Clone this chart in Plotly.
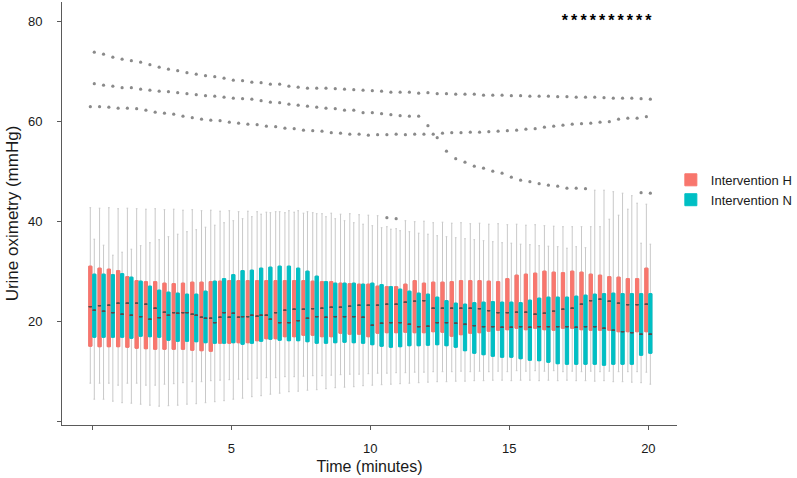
import numpy as np
import plotly.graph_objects as go

# ---- time points (minutes), one every 20 s ----
times = [round(i / 3, 3) for i in range(61)]

# ---- Intervention H (red) box statistics ----
H_q3 = [31.1, 30.7, 30.5, 30.2, 29.0, 28.2, 28.0, 28.0, 27.7, 27.6, 27.7, 27.9, 27.9, 28.0, 28.1, 28.2, 28.2, 28.2, 28.2,
        28.2, 28.2, 28.2, 28.2, 28.2, 28.1, 28.0, 28.0, 27.7, 27.6, 27.5, 27.5, 27.1, 27.0, 27.0, 27.5, 28.2, 27.7, 27.9, 27.9,
        28.0, 28.2, 28.2, 28.2, 28.1, 28.0, 28.6, 29.3, 29.5, 29.7, 30.1, 29.9, 29.8, 30.1, 29.9, 29.5, 29.3, 29.0, 28.9, 28.6, 28.6, 30.7]
H_med = [23.0, 23.2, 23.3, 23.7, 23.7, 23.7, 23.5, 22.7, 21.9, 21.8, 21.8, 21.5, 20.9, 20.7, 20.9, 20.9, 20.9, 21.0, 21.1,
         21.3, 21.8, 22.3, 22.5, 22.5, 22.6, 22.7, 22.9, 22.9, 23.1, 23.3, 23.3, 23.3, 23.5, 23.5, 23.9, 24.1, 24.2, 22.7, 22.7,
         22.7, 22.7, 22.7, 22.6, 22.2, 21.8, 21.8, 21.9, 21.9, 21.5, 21.7, 22.1, 22.5, 22.7, 23.5, 24.2, 24.5, 24.1, 23.7, 23.4, 23.4, 23.5]
H_q1 = [15.1, 15.0, 15.0, 15.0, 14.9, 14.7, 14.6, 14.5, 14.5, 14.5, 14.5, 14.3, 14.2, 14.1, 15.7, 15.7, 15.8, 15.8, 16.2,
        16.6, 16.6, 17.0, 17.0, 17.3, 17.3, 17.0, 17.0, 17.7, 17.5, 17.5, 17.0, 17.7, 17.8, 17.8, 17.9, 17.8, 17.8, 18.0, 17.9,
        17.1, 17.4, 17.7, 17.8, 18.1, 18.3, 18.4, 18.7, 18.4, 18.7, 18.4, 18.3, 18.7, 18.7, 18.4, 18.3, 18.3, 18.3, 18.0, 18.0, 18.0, 18.0]
H_hi = [42.8, 42.7, 42.8, 42.6, 42.7, 42.6, 42.5, 42.6, 42.4, 42.5, 42.3, 42.4, 42.2, 42.3, 42.1, 42.2, 42.0, 42.1, 42.0,
        41.9, 42.0, 41.8, 41.9, 41.7, 41.8, 41.6, 41.7, 41.5, 41.6, 41.4, 41.3, 41.2, 39.0, 38.6, 40.2, 40.0, 40.1, 39.8, 39.9,
        39.7, 39.8, 39.6, 39.7, 39.5, 39.6, 39.4, 39.5, 39.3, 39.4, 39.2, 39.1, 39.0, 39.0, 39.0, 39.0, 39.0, 40.5, 41.3, 42.5, 43.7, 43.5]
H_lo = [7.7, 7.7, 7.7, 7.3, 7.7, 7.7, 7.3, 7.3, 7.5, 7.6, 7.8, 8.0, 8.0, 8.2, 8.3, 8.4, 8.5, 8.5, 8.7,
        8.8, 8.8, 9.0, 9.0, 9.1, 9.2, 9.2, 9.3, 9.4, 9.5, 9.5, 9.6, 9.7, 9.7, 9.8, 9.8, 9.9, 9.9, 10.0, 10.0,
        10.0, 10.1, 10.0, 10.1, 10.0, 10.1, 10.0, 10.2, 10.1, 10.2, 10.1, 10.2, 10.0, 10.1, 10.0, 10.1, 10.0, 10.1, 10.0, 10.0, 10.0, 9.9]

# ---- Intervention N (teal) box statistics ----
N_q3 = [29.5, 29.5, 29.4, 29.6, 28.9, 28.1, 27.1, 26.3, 25.9, 25.7, 25.5, 25.5, 26.1, 28.1, 28.6, 29.4, 30.2, 30.3,
        30.7, 30.9, 31.1, 31.1, 30.7, 30.1, 29.1, 28.0, 27.7, 27.7, 27.7, 27.5, 27.7, 27.4, 27.0, 26.5, 26.1, 25.7, 25.5, 24.9, 24.2,
        23.7, 23.5, 23.8, 23.9, 24.0, 23.9, 23.9, 23.8, 24.3, 24.7, 24.9, 24.9, 24.9, 25.1, 25.3, 25.5, 25.6, 25.7, 25.6, 25.6, 25.6, 25.6]
N_med = [22.3, 22.1, 21.8, 21.5, 21.3, 21.0, 20.5, 20.8, 21.3, 21.7, 21.8, 21.3, 20.7, 19.8, 21.8, 21.7, 21.0, 21.3,
         21.3, 20.5, 19.8, 19.8, 20.2, 20.7, 21.0, 20.9, 21.0, 21.0, 21.0, 20.9, 19.3, 19.7, 19.8, 19.8, 19.5, 19.0, 19.1, 19.8, 19.8,
         19.7, 19.5, 19.2, 19.0, 19.0, 18.9, 18.9, 19.0, 18.9, 19.0, 19.0, 19.0, 19.0, 18.9, 19.0, 19.0, 18.7, 18.3, 18.0, 17.8, 17.5, 17.5]
N_q1 = [16.9, 16.9, 16.9, 16.9, 16.7, 17.1, 17.0, 16.9, 16.3, 16.1, 16.1, 16.0, 15.8, 15.7, 15.7, 15.8, 15.5, 15.7,
        16.1, 16.5, 16.3, 16.2, 16.2, 16.0, 15.7, 15.7, 15.8, 15.9, 15.8, 15.7, 15.4, 15.1, 14.9, 15.0, 15.2, 15.2, 15.3, 15.4, 15.2,
        14.9, 14.2, 13.7, 13.4, 13.1, 12.9, 12.9, 12.6, 12.3, 12.2, 11.9, 11.6, 11.5, 11.5, 11.5, 11.5, 11.3, 11.5, 11.5, 11.5, 13.3, 13.7]
N_hi = [36.5, 35.3, 33.3, 33.9, 34.5, 35.2, 35.8, 36.4, 37.0, 37.5, 38.0, 38.4, 38.9, 39.3, 39.8, 40.2, 40.6, 41.0,
        41.5, 41.8, 42.0, 42.2, 42.2, 42.0, 41.6, 41.0, 40.6, 40.2, 39.8, 39.5, 39.2, 38.8, 38.5, 38.2, 38.0, 37.7, 37.5, 37.2, 37.0,
        36.8, 36.6, 36.4, 36.2, 36.0, 35.8, 35.7, 35.5, 35.4, 35.2, 35.1, 35.0, 34.7, 35.0, 34.8, 46.3, 46.3, 46.0, 45.7, 45.2, 35.7, 35.5]
N_lo = [4.5, 4.5, 4.1, 3.8, 3.7, 3.5, 3.3, 3.1, 3.2, 3.3, 3.5, 3.6, 3.8, 4.0, 4.2, 4.5, 4.7, 5.0,
        5.2, 5.5, 5.7, 6.0, 6.1, 6.3, 6.4, 6.6, 6.8, 6.9, 7.0, 7.2, 7.3, 7.4, 7.5, 7.6, 7.7, 7.8, 7.9, 8.0, 8.0,
        8.1, 8.1, 8.2, 8.2, 8.3, 8.3, 8.2, 8.3, 8.3, 8.2, 8.3, 8.2, 8.3, 8.2, 8.2, 8.1, 8.2, 8.0, 8.0, 7.9, 7.8, 7.5]

# ---- outliers ----
N_out_a = [73.9, 73.5, 72.9, 72.5, 72.2, 71.9, 71.4, 70.9, 70.5, 70.2, 69.8, 69.5, 69.2, 69.0, 68.7, 68.3, 68.2, 67.9, 67.8, 67.5,
           67.5, 67.1, 66.9, 66.7, 66.7, 66.7, 66.6, 66.5, 66.4,
           66.3, 66.2, 66.1, 65.9, 65.9, 65.9, 65.7, 65.8, 65.6, 65.6, 65.5, 65.5, 65.5, 65.3, 65.3, 65.3, 65.2, 65.2, 65.1, 65.1,
           65.1, 65.0, 65.0, 64.9, 64.9, 64.9, 64.8, 64.7, 64.7, 64.7, 64.6, 64.5]
N_out_b = [67.6, 67.3, 67.1, 66.8, 66.8, 66.5, 66.3, 66.1, 66.0, 65.8, 65.6, 65.4, 65.2, 65.1, 64.9, 64.7, 64.6, 64.5, 64.2, 63.9,
           63.8, 63.5, 63.3, 63.1, 62.9, 62.7, 62.6, 62.3, 62.3,
           61.8, 61.8, 61.6, 61.4, 61.2, 61.1, 61.1, 59.2, 56.8, 54.1, 52.6, 51.9, 51.1, 50.7, 50.1, 49.7, 48.9, 48.3, 48.0, 47.6,
           47.3, 47.1, 46.7, 46.7, 46.6, None, None, None, None, None, 45.8, 45.7]
H_out_a = [63.0, 63.0, 62.9, 62.7, 62.7, 62.6, 62.3, 61.9, 61.7, 61.5, 61.1, 60.8, 60.5, 60.3, 60.2, 59.9, 59.7, 59.5, 59.4, 59.1,
           59.0, 58.7, 58.6, 58.3, 58.2, 58.1, 57.8, 57.7, 57.5, 57.5,
           57.3, 57.4, 57.4, 57.5, 57.4, 57.5, 57.5, 57.5, 57.7, 57.8, 57.8, 57.9, 57.9, 58.0, 58.1, 58.2, 58.3, 58.5, 58.6, 58.9,
           59.1, 59.3, 59.5, 59.6, 59.7, 59.9, 60.0, 60.5, 60.7, 60.7, 61.0]
H_out_extra_t = [10.667, 11.0]
H_out_extra_v = [40.8, 40.6]

# ---- significance markers ----
sig_times = [17.0, 17.333, 17.667, 18.0, 18.333, 18.667, 19.0, 19.333, 19.667, 20.0]
sig_y = 80

# ---- styling ----
RED = "#F8766D"
TEAL = "#00BFC4"
WHISKER = "#c9c9c9"
MEDIAN = "#5b4a4a"
OUTLIER = "#8a8a8a"
FONT = "Liberation Sans, Arial, Helvetica, sans-serif"
BOXGAP = 0.14
BOXGROUPGAP = 0.18
step = times[1] - times[0]
dodge = step * (1 - BOXGAP) / 4

fig = go.Figure()


def add_group(name, color, q1, med, q3, lo, hi, grp):
    fig.add_trace(go.Box(x=times, q1=q1, median=med, q3=q3, lowerfence=lo, upperfence=hi,
                         line=dict(color=WHISKER, width=1), fillcolor=color,
                         offsetgroup=grp, boxpoints=False, showlegend=False, hoverinfo="skip"))
    fig.add_trace(go.Box(x=times, q1=q1, median=med, q3=q3, lowerfence=q1, upperfence=q3,
                         line=dict(color=color, width=1), fillcolor=color, name=name,
                         offsetgroup=grp, boxpoints=False, showlegend=True))
    fig.add_trace(go.Box(x=times, q1=med, median=med, q3=med, lowerfence=med, upperfence=med,
                         line=dict(color=MEDIAN, width=1), fillcolor=color,
                         offsetgroup=grp, boxpoints=False, showlegend=False, hoverinfo="skip"))


add_group("Intervention H", RED, H_q1, H_med, H_q3, H_lo, H_hi, "H")
add_group("Intervention N", TEAL, N_q1, N_med, N_q3, N_lo, N_hi, "N")

mk = dict(color=OUTLIER, size=3.2)
fig.add_trace(go.Scatter(x=[t - dodge for t in times], y=H_out_a, mode="markers", marker=mk,
                         showlegend=False, hoverinfo="skip"))
fig.add_trace(go.Scatter(x=[t - dodge for t in H_out_extra_t], y=H_out_extra_v, mode="markers", marker=mk,
                         showlegend=False, hoverinfo="skip"))
fig.add_trace(go.Scatter(x=[t + dodge for t in times], y=N_out_a, mode="markers", marker=mk,
                         showlegend=False, hoverinfo="skip"))
fig.add_trace(go.Scatter(x=[t + dodge for t in times], y=N_out_b, mode="markers", marker=mk,
                         showlegend=False, hoverinfo="skip"))
fig.add_trace(go.Scatter(x=sig_times, y=[sig_y] * len(sig_times), mode="text", text=["<b>*</b>"] * len(sig_times),
                         textfont=dict(family=FONT, size=16, color="#000000"), textposition="middle center",
                         showlegend=False, hoverinfo="skip"))

axis_common = dict(showline=True, linecolor="#5a5a5a", linewidth=1, ticks="outside", ticklen=4,
                   tickcolor="#5a5a5a", showgrid=False, zeroline=False, automargin=False,
                   tickfont=dict(family=FONT, size=13, color="#1a1a1a"))

fig.update_layout(
    width=797, height=478,
    margin=dict(l=62, r=120, t=2, b=53, autoexpand=False),
    paper_bgcolor="white", plot_bgcolor="white",
    boxmode="group", boxgap=BOXGAP, boxgroupgap=BOXGROUPGAP,
    font=dict(family=FONT, color="#1a1a1a"),
    xaxis=dict(range=[-1.09, 21.03], tickvals=[0, 5, 10, 15, 20], ticktext=["", "5", "10", "15", "20"],
               ticklabelstandoff=7,
               title=dict(text="Time (minutes)", font=dict(family=FONT, size=16), standoff=6), **axis_common),
    yaxis=dict(range=[-0.66, 83.94], tickvals=[0, 20, 40, 60, 80], ticktext=["", "20", "40", "60", "80"],
               ticklabelstandoff=12,
               title=dict(text="Urine oximetry (mmHg)", font=dict(family=FONT, size=17), standoff=4), **axis_common),
    legend=dict(x=0.99, y=0.615, xanchor="left", yanchor="top", font=dict(family=FONT, size=13),
                bgcolor="rgba(0,0,0,0)", tracegroupgap=0, itemwidth=30),
)

fig.write_html("out.html", config={"displayModeBar": False},
               post_script="document.body.style.margin='0';document.body.style.overflow='hidden';")
